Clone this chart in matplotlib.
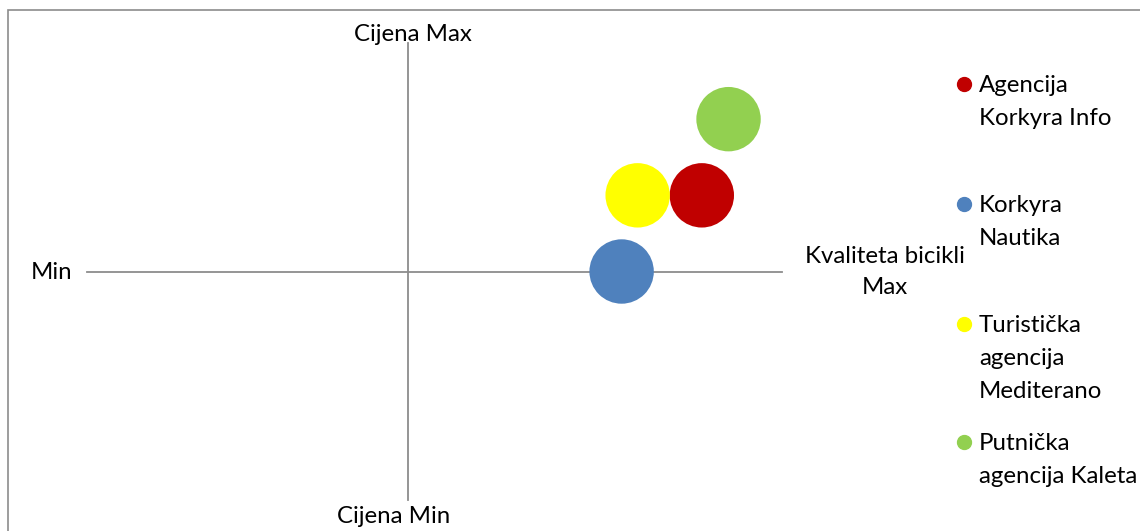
import matplotlib
matplotlib.use("Agg")
import matplotlib.pyplot as plt
from matplotlib.patches import Rectangle

# data
agencije = ["Agencija\nKorkyra Info", "Korkyra\nNautika",
            "Turistička\nagencija\nMediterano", "Putnička\nagencija Kaleta"]
kvaliteta = [2.75, 2.0, 2.15, 3.0]
cijena = [1.0, 0.0, 1.0, 2.0]
velicina = [1, 1, 1, 1]
boje = ["#C00000", "#4F81BD", "#FFFF00", "#92D050"]

W, H = 1140, 531
plt.rcParams['font.family'] = ['Lato', 'DejaVu Sans']
FS = 17.3
GRAY = "#8C8C8C"


def fx(px):
    return px / W


def fy(py):
    return 1 - py / H


def lines_at(x, y_base, text, step, ha):
    # one text per line, baseline-aligned, so spacing is exact
    for i, part in enumerate(text.split("\n")):
        fig.text(fx(x), fy(y_base + i * step), part, ha=ha, va="baseline",
                 fontsize=FS)


fig = plt.figure(figsize=(W / 100, H / 100), dpi=100)

# outer frame (cut off at right/bottom like the reference)
fig.patches.append(Rectangle((fx(8), -0.1), 1.2, fy(10) + 0.1,
                             transform=fig.transFigure, fill=False,
                             edgecolor=GRAY, linewidth=1.2))

# plot area: x from -3 to 3.5, y from -3 to 3
x0, x1 = 87, 782
y0, y1 = 43, 500
ax = fig.add_axes([fx(x0), fy(y1), (x1 - x0) / W, (y1 - y0) / H])
ax.set_xlim(-3, 3.5)
ax.set_ylim(-3, 3)
ax.patch.set_visible(False)

for s in ["top", "right"]:
    ax.spines[s].set_visible(False)
for s in ["left", "bottom"]:
    ax.spines[s].set_position("zero")
    ax.spines[s].set_color(GRAY)
    ax.spines[s].set_linewidth(1.3)
ax.set_xticks([])
ax.set_yticks([])

area = [v * 2150 for v in velicina]
for xv, yv, a, c in zip(kvaliteta, cijena, area, boje):
    ax.scatter(xv, yv, s=a, color=c, edgecolors="none", zorder=3, clip_on=False)

# axis captions
lines_at(412.5, 41, "Cijena Max", 0, "center")
lines_at(394, 523, "Cijena Min", 0, "center")
lines_at(72, 279, "Min", 0, "right")
lines_at(885, 263, "Kvaliteta bicikli\nMax", 30.5, "center")

# legend drawn by hand so markers sit on the first label line
leg_y = [84, 204, 324, 442]
for lab, c, yp in zip(agencije, boje, leg_y):
    fig.add_artist(plt.Line2D([fx(964)], [fy(yp)], marker="o",
                              markersize=10, color=c, linestyle="none",
                              transform=fig.transFigure))
    lines_at(979, yp + 8, lab, 33, "left")

fig.savefig("out.png", dpi=100)
